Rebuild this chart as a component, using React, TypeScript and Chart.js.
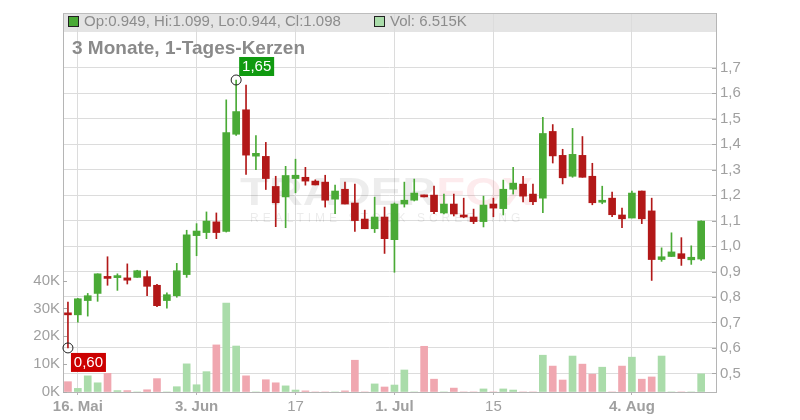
import React, { useEffect, useRef } from 'react';
import { Chart, registerables } from 'chart.js';

Chart.register(...registerables);

const FONT = '"Liberation Sans", Arial, sans-serif';

const openP = [
  0.735, 0.730, 0.786, 0.814, 0.877, 0.876, 0.875, 0.877, 0.880, 0.846,
  0.786, 0.805, 0.888, 1.041, 1.053, 1.095, 1.057, 1.439, 1.535, 1.353,
  1.352, 1.234, 1.193, 1.265, 1.270, 1.255, 1.251, 1.184, 1.223, 1.169,
  1.106, 1.068, 1.114, 1.025, 1.165, 1.180, 1.200, 1.200, 1.130, 1.165,
  1.122, 1.114, 1.096, 1.165, 1.147, 1.223, 1.243, 1.204, 1.188, 1.450,
  1.356, 1.274, 1.356, 1.274, 1.172, 1.188, 1.122, 1.110, 1.216, 1.138,
  0.947, 0.959, 0.970, 0.946, 0.949,
];
const highP = [
  0.780, 0.795, 0.814, 0.891, 0.958, 0.891, 0.930, 0.905, 0.903, 0.850,
  0.816, 0.932, 1.062, 1.088, 1.134, 1.130, 1.574, 1.652, 1.632, 1.434,
  1.407, 1.274, 1.313, 1.341, 1.309, 1.260, 1.278, 1.239, 1.251, 1.243,
  1.141, 1.192, 1.153, 1.169, 1.251, 1.263, 1.200, 1.235, 1.204, 1.204,
  1.188, 1.145, 1.196, 1.188, 1.259, 1.309, 1.274, 1.243, 1.505, 1.477,
  1.380, 1.462, 1.430, 1.325, 1.235, 1.212, 1.149, 1.216, 1.216, 1.188,
  0.993, 1.052, 1.033, 1.001, 1.099,
];
const lowP = [
  0.600, 0.701, 0.725, 0.783, 0.846, 0.826, 0.851, 0.877, 0.805, 0.762,
  0.756, 0.799, 0.877, 0.962, 1.029, 1.029, 1.055, 1.434, 1.281, 1.300,
  1.222, 1.076, 1.072, 1.209, 1.239, 1.240, 1.153, 1.127, 1.165, 1.057,
  1.068, 1.053, 0.971, 0.897, 1.153, 1.177, 1.193, 1.127, 1.126, 1.118,
  1.111, 1.088, 1.075, 1.115, 1.122, 1.204, 1.173, 1.162, 1.131, 1.326,
  1.244, 1.270, 1.270, 1.162, 1.166, 1.115, 1.072, 1.110, 1.088, 0.865,
  0.940, 0.959, 0.924, 0.928, 0.944,
];
const closeP = [
  0.730, 0.793, 0.805, 0.891, 0.873, 0.884, 0.866, 0.903, 0.842, 0.766,
  0.809, 0.903, 1.044, 1.059, 1.098, 1.053, 1.446, 1.528, 1.357, 1.364,
  1.265, 1.170, 1.277, 1.278, 1.255, 1.240, 1.180, 1.216, 1.165, 1.100,
  1.068, 1.114, 1.029, 1.165, 1.180, 1.208, 1.193, 1.135, 1.165, 1.126,
  1.114, 1.096, 1.161, 1.149, 1.223, 1.247, 1.196, 1.174, 1.442, 1.354,
  1.268, 1.360, 1.270, 1.170, 1.178, 1.123, 1.107, 1.208, 1.107, 0.947,
  0.958, 0.977, 0.951, 0.956, 1.098,
];
const volumeK = [
  3.7, 1.3, 5.8, 3.3, 6.7, 0.5, 0.5, 0, 0.8, 4.8,
  0, 1.9, 10.1, 2.6, 7.3, 16.9, 31.9, 16.5, 5.8, 0,
  4.4, 3.3, 2.2, 0.7, 0.4, 0, 0, 0, 0.4, 11.4,
  0, 2.9, 1.8, 2.5, 7.9, 0, 16.4, 4.6, 0, 1.4,
  0, 0, 1.1, 0, 1.1, 0.7, 0, 0, 13.2, 9.3,
  4.3, 12.9, 10.0, 6.4, 8.9, 0, 9.3, 12.5, 4.6, 5.4,
  12.9, 0, 0, 0, 6.515,
];

const slotCount = 66;
const xTickIndex = [1, 13, 23, 33, 43, 57];
const xTickText = ['16. Mai', '3. Jun', '17', '1. Jul', '15', '4. Aug'];
const xTickBold = [true, true, false, true, false, true];
const priceTicks = [0.5, 0.6, 0.7, 0.8, 0.9, 1.0, 1.1, 1.2, 1.3, 1.4, 1.5, 1.6, 1.7];
const volumeTicks = [0, 10000, 20000, 30000, 40000];
const legendText = 'Op:0.949, Hi:1.099, Lo:0.944, Cl:1.098';
const volText = 'Vol: 6.515K';
const titleText = '3 Monate, 1-Tages-Kerzen';
const highIndex = 17;
const highLabel = '1,65';
const lowIndex = 0;
const lowLabel = '0,60';

const GREEN = '#4aaa36';
const RED = '#b21818';
const VGREEN = '#aadcaa';
const VRED = '#f0a7b0';

const overlayPlugin = {
  id: 'overlay',
  beforeDraw(chart: any) {
    const { ctx, chartArea } = chart;
    ctx.save();
    ctx.fillStyle = '#ffffff';
    ctx.fillRect(0, 0, chart.width, chart.height);
    ctx.fillStyle = '#e4e4e4';
    ctx.fillRect(chartArea.left, chartArea.top, chartArea.right - chartArea.left, 19);
    ctx.restore();
  },
  beforeDatasetsDraw(chart: any) {
    const { ctx } = chart;
    ctx.save();
    ctx.translate(240, 205);
    ctx.scale(1.24, 1);
    ctx.font = `bold 38px ${FONT}`;
    ctx.textBaseline = 'alphabetic';
    ctx.fillStyle = 'rgba(0,0,0,0.07)';
    ctx.fillText('TRADER', 0, 0);
    const w = ctx.measureText('TRADER').width;
    ctx.fillStyle = 'rgba(240,60,80,0.10)';
    ctx.fillText('FOX', w, 0);
    ctx.restore();
    ctx.save();
    ctx.font = `12px ${FONT}`;
    ctx.fillStyle = 'rgba(0,0,0,0.08)';
    ctx.textBaseline = 'middle';
    (ctx as any).letterSpacing = '4px';
    ctx.fillText('REALTIME STOCK SCREENING', 250, 219);
    ctx.restore();
  },
  afterDraw(chart: any) {
    const { ctx, chartArea, scales } = chart;
    const xs = scales.x;
    const yp = scales.yP;
    const yv = scales.yV;
    ctx.save();
    // top frame line
    ctx.strokeStyle = '#bdbdbd';
    ctx.lineWidth = 1;
    ctx.beginPath();
    ctx.moveTo(chartArea.left, chartArea.top + 0.5);
    ctx.lineTo(chartArea.right, chartArea.top + 0.5);
    ctx.stroke();
    // inner tick marks
    ctx.strokeStyle = '#aaaaaa';
    priceTicks.forEach((v) => {
      const y = Math.round(yp.getPixelForValue(v)) + 0.5;
      ctx.beginPath();
      ctx.moveTo(chartArea.right - 4, y);
      ctx.lineTo(chartArea.right, y);
      ctx.stroke();
    });
    volumeTicks.forEach((v) => {
      const y = Math.round(yv.getPixelForValue(v)) + 0.5;
      ctx.beginPath();
      ctx.moveTo(chartArea.left, y);
      ctx.lineTo(chartArea.left + 4, y);
      ctx.stroke();
    });
    // legend
    ctx.font = `15px ${FONT}`;
    ctx.textBaseline = 'middle';
    ctx.fillStyle = GREEN;
    ctx.fillRect(68.5, 16.5, 10, 10);
    ctx.strokeStyle = '#222';
    ctx.strokeRect(68.5, 16.5, 10, 10);
    ctx.fillStyle = '#8c8c8c';
    ctx.fillText(legendText, 84, 21.5);
    ctx.fillStyle = VGREEN;
    ctx.fillRect(374.5, 16.5, 10, 10);
    ctx.strokeRect(374.5, 16.5, 10, 10);
    ctx.fillStyle = '#8c8c8c';
    ctx.fillText(volText, 390, 21.5);
    // title
    ctx.font = `bold 19px ${FONT}`;
    ctx.textBaseline = 'alphabetic';
    ctx.fillStyle = '#8a8a8a';
    ctx.fillText(titleText, 72, 54);
    // high marker
    const hx = xs.getPixelForValue(highIndex);
    const hy = yp.getPixelForValue(highP[highIndex]);
    ctx.strokeStyle = '#222';
    ctx.lineWidth = 1;
    ctx.beginPath();
    ctx.arc(hx, hy, 5, 0, Math.PI * 2);
    ctx.stroke();
    ctx.fillStyle = '#109a10';
    ctx.fillRect(hx + 3, hy - 23, 35, 19);
    ctx.fillStyle = '#ffffff';
    ctx.font = `15px ${FONT}`;
    ctx.textBaseline = 'middle';
    ctx.textAlign = 'center';
    ctx.fillText(highLabel, hx + 3 + 17.5, hy - 13);
    // low marker
    const lx = xs.getPixelForValue(lowIndex);
    const ly = yp.getPixelForValue(lowP[lowIndex]);
    ctx.beginPath();
    ctx.arc(lx, ly, 5, 0, Math.PI * 2);
    ctx.stroke();
    ctx.fillStyle = '#cc0000';
    ctx.fillRect(lx + 3, ly + 5, 35, 19);
    ctx.fillStyle = '#ffffff';
    ctx.fillText(lowLabel, lx + 3 + 17.5, ly + 15);
    ctx.restore();
  },
};

export default function App() {
  const ref = useRef<HTMLCanvasElement | null>(null);

  useEffect(() => {
    if (!ref.current) return;
    const labels = Array.from({ length: slotCount }, (_, i) => `D${i}`);
    const up = openP.map((o, i) => closeP[i] >= o);
    const chart = new Chart(ref.current, {
      type: 'bar',
      data: {
        labels,
        datasets: [
          {
            label: 'body',
            data: openP.map((o, i) => [Math.min(o, closeP[i]), Math.max(o, closeP[i])]) as any,
            backgroundColor: up.map((u) => (u ? GREEN : RED)),
            borderWidth: 0,
            barThickness: 7,
            grouped: false,
            minBarLength: 2,
            yAxisID: 'yP',
            order: 0,
          } as any,
          {
            label: 'wick',
            data: lowP.map((l, i) => [l, highP[i]]) as any,
            backgroundColor: up.map((u) => (u ? GREEN : RED)),
            borderWidth: 0,
            barThickness: 1,
            grouped: false,
            yAxisID: 'yP',
            order: 1,
          } as any,
          {
            label: 'volume',
            data: volumeK.map((v) => v * 1000),
            backgroundColor: up.map((u) => (u ? VGREEN : VRED)),
            borderWidth: 0,
            barThickness: 7,
            grouped: false,
            yAxisID: 'yV',
            order: 2,
          } as any,
        ],
      },
      options: {
        animation: false,
        responsive: false,
        maintainAspectRatio: false,
        layout: { padding: { top: 11, left: 0, right: 0, bottom: 0 } },
        plugins: { legend: { display: false }, tooltip: { enabled: false } },
        scales: {
          x: {
            type: 'category',
            offset: true,
            grid: { offset: false, color: '#dcdcdc', drawTicks: true, tickLength: 3, tickColor: '#b5b5b5' },
            border: { color: '#b5b5b5' },
            ticks: {
              autoSkip: false,
              maxRotation: 0,
              padding: 3,
              color: '#a0a0a0',
              font: (ctx: any) => ({
                family: FONT,
                size: 15,
                weight: xTickBold[ctx.index] ? 'bold' : 'normal',
              }),
              callback: (_v: any, i: number) => xTickText[i],
            },
            afterBuildTicks: (s: any) => {
              s.ticks = xTickIndex.map((v) => ({ value: v }));
            },
            afterFit: (s: any) => {
              s.height = 28;
            },
          } as any,
          yP: {
            type: 'linear',
            position: 'right',
            min: 0.427,
            max: 1.915,
            grid: { color: '#dcdcdc', drawTicks: false },
            border: { color: '#b5b5b5' },
            ticks: {
              padding: 4,
              color: '#a0a0a0',
              font: { family: FONT, size: 15 },
              callback: (v: any) => Number(v).toFixed(1).replace('.', ','),
            },
            afterBuildTicks: (s: any) => {
              s.ticks = priceTicks.map((v) => ({ value: v }));
            },
            afterFit: (s: any) => {
              s.width = 84;
            },
          } as any,
          yV: {
            type: 'linear',
            position: 'left',
            min: 0,
            max: 136000,
            grid: { drawOnChartArea: false, drawTicks: false },
            border: { color: '#b5b5b5' },
            ticks: {
              padding: 3,
              color: '#a0a0a0',
              font: { family: FONT, size: 15 },
              callback: (v: any) => `${Math.round(Number(v) / 1000)}K`,
            },
            afterBuildTicks: (s: any) => {
              s.ticks = volumeTicks.map((v) => ({ value: v }));
            },
            afterFit: (s: any) => {
              s.width = 63;
            },
          } as any,
        },
      },
      plugins: [overlayPlugin],
    });
    return () => chart.destroy();
  }, []);

  return (
    <div style={{ position: 'fixed', left: 0, top: 0, width: 800, height: 420, background: '#fff' }}>
      <canvas ref={ref} width={800} height={420} style={{ display: 'block', width: 800, height: 420 }} />
    </div>
  );
}
